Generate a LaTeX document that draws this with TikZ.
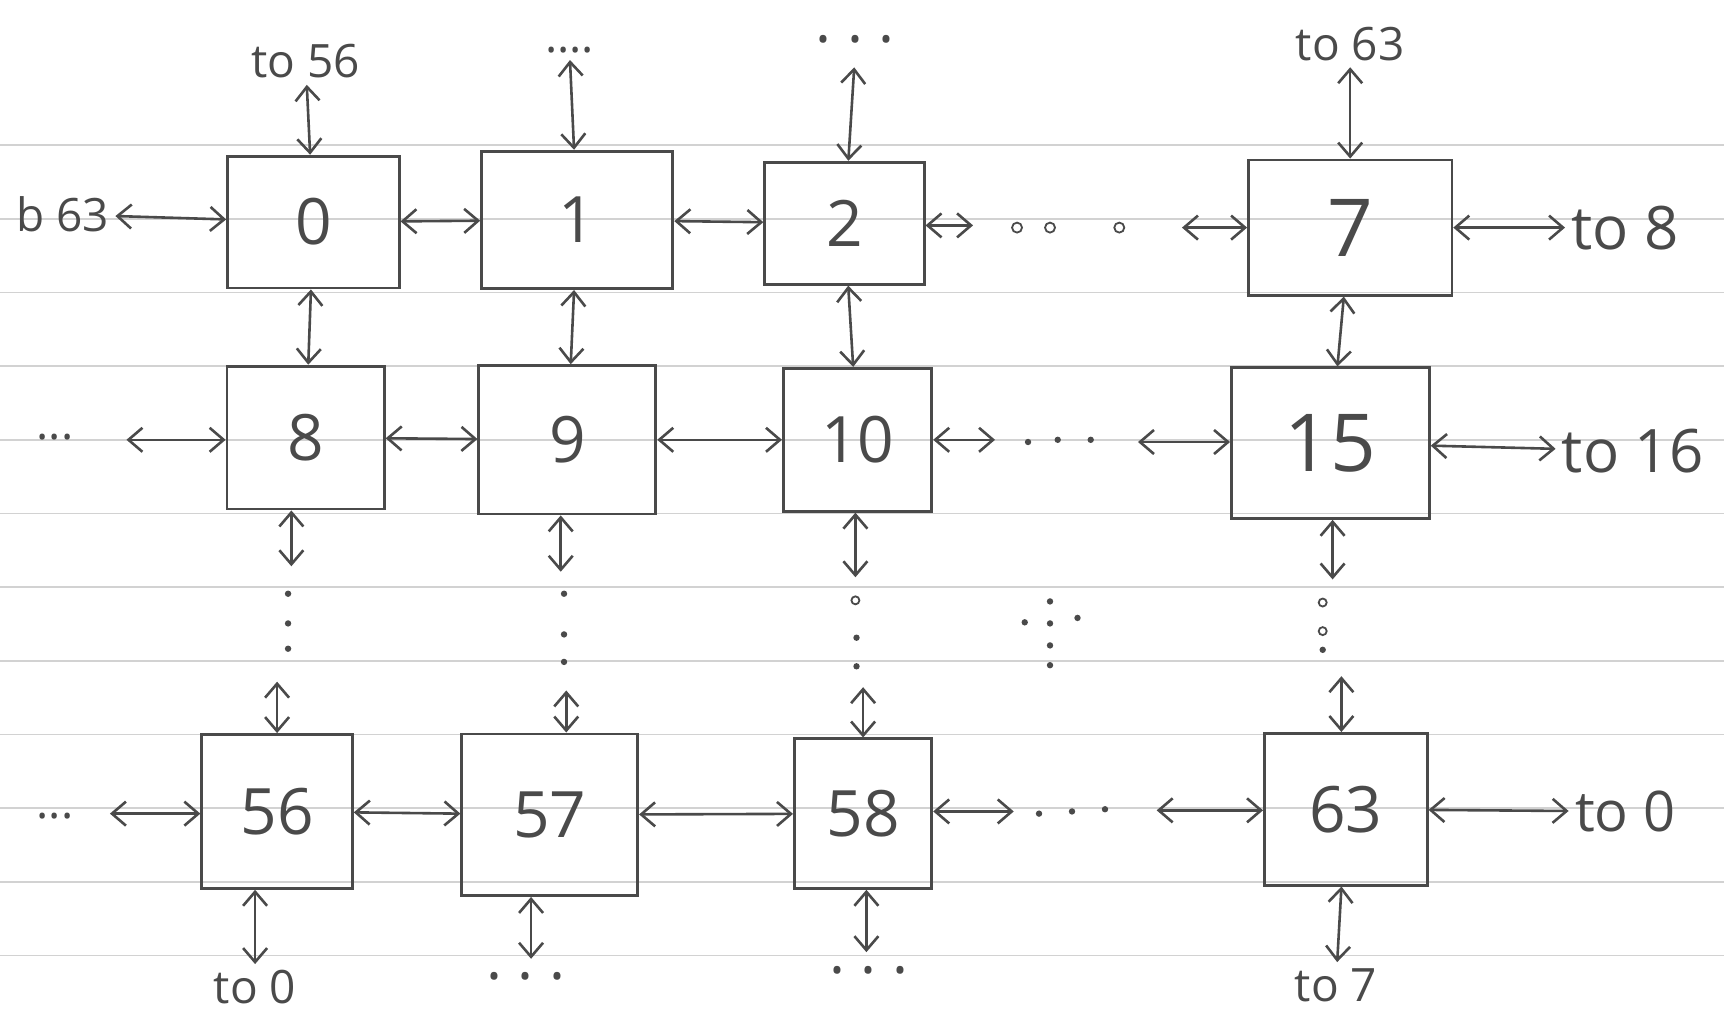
\documentclass[tikz,border=0pt]{standalone}
\usepackage{fontspec}
\setmainfont{Open Sans}
\usetikzlibrary{arrows.meta}
\definecolor{pencil}{HTML}{4A4A4A}
\definecolor{ruling}{HTML}{D2D2D2}
\begin{document}
\begin{tikzpicture}[x=0.55pt,y=-0.55pt,
  box/.style={draw=pencil, line width=1.4pt, inner sep=0pt, text=pencil, font=\fontsize{32}{36}\selectfont},
  big/.style={font=\fontsize{40}{44}\selectfont},
  sz/.style 2 args={minimum width=#1*0.55pt, minimum height=#2*0.55pt},
  lbl/.style={text=pencil, inner sep=3pt, font=\fontsize{23}{26}\selectfont},
  link/.style={draw=pencil, line width=1.3pt, {Straight Barb[length=7pt,width=12pt]}-{Straight Barb[length=7pt,width=12pt]}},
  pt/.style={fill=pencil, circle, inner sep=0pt, minimum size=3.2pt},
  ring/.style={draw=pencil, line width=0.9pt, circle, inner sep=0pt, minimum size=5pt}]
\fill[white] (0,0) rectangle (1568,922);
\useasboundingbox (0,0) rectangle (1568,922);
\foreach \yy in {132,199,...,900} \draw[ruling, line width=0.8pt] (0,\yy) -- (1568,\yy);

% boxes
\node[box, sz={156}{120}] (n0) at (285,202) {0};
\node[box, sz={174}{125}] (n1) at (525,200) {1};
\node[box, sz={145}{111}] (n2) at (768,203) {2};
\node[box, big, sz={185}{123}] (n7) at (1228,207) {7};
\node[box, sz={143}{130}] (n8) at (278,398) {8};
\node[box, sz={161}{135}] (n9) at (516,400) {9};
\node[box, sz={135}{130}] (n10) at (780,400) {10};
\node[box, big, sz={180}{137}] (n15) at (1210,403) {15};
\node[box, sz={137}{140}] (n56) at (252,738) {56};
\node[box, sz={160}{147}] (n57) at (500,741) {57};
\node[box, sz={125}{136}] (n58) at (785,740) {58};
\node[box, sz={148}{138}] (n63) at (1224,736) {63};

% top labels
\node[lbl] (t0) at (278,56) {to 56};
\node[lbl] (t1) at (518,46) {....};
\node[lbl, font=\fontsize{30}{32}\selectfont] (t2) at (778,44) {· · ·};
\node[lbl] (t7) at (1228,40) {to 63};
\draw[link] (t0) -- (n0);
\draw[link] (t1) -- (n1);
\draw[link] (t2) -- (n2);
\draw[link] (t7) -- (n7);

% row 1
\node[lbl] (l0) at (57,195) {b 63};
\draw[link] (l0) -- (n0);
\draw[link] (n0) -- (n1);
\draw[link] (n1) -- (n2);
\coordinate (d1w) at (885,205);
\coordinate (d1e) at (1075,207);
\draw[link] (n2.east |- d1w) -- (d1w);
\node[ring] at (925,207) {};
\node[ring] at (955,207) {};
\node[ring] at (1018,207) {};
\draw[link] (d1e) -- (d1e -| n7.west);
\node[lbl, font=\fontsize{30}{34}\selectfont] (r7) at (1478,207) {to 8};
\draw[link] (n7) -- (r7);

% vertical row1-row2
\draw[link] (n0) -- (n8);
\draw[link] (n1) -- (n9);
\draw[link] (n2) -- (n10);
\draw[link] (n7) -- (n15);

% row 2
\node[lbl] (l8) at (50,398) {...};
\coordinate (l8e) at (115,400);
\draw[link] (l8e) -- (l8e -| n8.west);
\draw[link] (n8) -- (n9);
\draw[link] (n9) -- (n10);
\coordinate (d2w) at (905,400);
\coordinate (d2e) at (1035,402);
\draw[link] (n10.east |- d2w) -- (d2w);
\node[pt] at (935,402) {};
\node[pt] at (962,400) {};
\node[pt] at (992,400) {};
\draw[link] (d2e) -- (d2e -| n15.west);
\node[lbl, font=\fontsize{30}{34}\selectfont] (r15) at (1485,410) {to 16};
\draw[link] (n15) -- (r15);

% vertical dots between row 2 and row 3
\coordinate (c1a) at (265,515);  \coordinate (c1b) at (252,620);
\coordinate (c2a) at (510,520);  \coordinate (c2b) at (515,628);
\coordinate (c3a) at (778,525);  \coordinate (c3b) at (785,625);
\coordinate (c4a) at (1212,527); \coordinate (c4b) at (1220,615);
\draw[link] (c1a |- n8.south) -- (c1a);
\draw[link] (c2a |- n9.south) -- (c2a);
\draw[link] (c3a |- n10.south) -- (c3a);
\draw[link] (c4a |- n15.south) -- (c4a);
\draw[link] (c1b) -- (c1b |- n56.north);
\draw[link] (c2b) -- (c2b |- n57.north);
\draw[link] (c3b) -- (c3b |- n58.north);
\draw[link] (c4b) -- (c4b |- n63.north);
\foreach \yy in {540,567,590} \node[pt] at (262,\yy) {};
\foreach \yy in {540,577,602} \node[pt] at (513,\yy) {};
\node[ring, minimum size=4pt] at (778,546) {};
\foreach \yy in {580,606} \node[pt] at (779,\yy) {};
\node[ring, minimum size=4pt] at (1203,548) {};
\node[ring, minimum size=4pt] at (1203,574) {};
\node[pt] at (1203,591) {};
\foreach \yy in {547,567,587,605} \node[pt] at (955,\yy) {};
\node[pt] at (932,566) {};
\node[pt] at (980,562) {};

% row 3
\node[lbl] (l56) at (50,742) {...};
\coordinate (l56e) at (100,740);
\draw[link] (l56e) -- (l56e -| n56.west);
\draw[link] (n56) -- (n57);
\draw[link] (n57) -- (n58);
\coordinate (d3w) at (922,738);
\coordinate (d3e) at (1052,737);
\draw[link] (n58.east |- d3w) -- (d3w);
\node[pt] at (945,740) {};
\node[pt] at (975,738) {};
\node[pt] at (1005,736) {};
\draw[link] (d3e) -- (d3e -| n63.west);
\node[lbl, font=\fontsize{28}{32}\selectfont] (r63) at (1478,738) {to 0};
\draw[link] (n63) -- (r63);

% bottom labels
\node[lbl] (b56) at (232,898) {to 0};
\node[lbl, font=\fontsize{30}{32}\selectfont] (b57) at (478,896) {· · ·};
\node[lbl, font=\fontsize{30}{32}\selectfont] (b58) at (790,890) {· · ·};
\node[lbl] (b63) at (1215,896) {to 7};
\coordinate (b57t) at (483,872);
\coordinate (b58t) at (788,866);
\draw[link] (n56.south -| b56) -- (b56);
\draw[link] (b57t |- n57.south) -- (b57t);
\draw[link] (b58t |- n58.south) -- (b58t);
\draw[link] (n63) -- (b63);
\end{tikzpicture}
\end{document}
